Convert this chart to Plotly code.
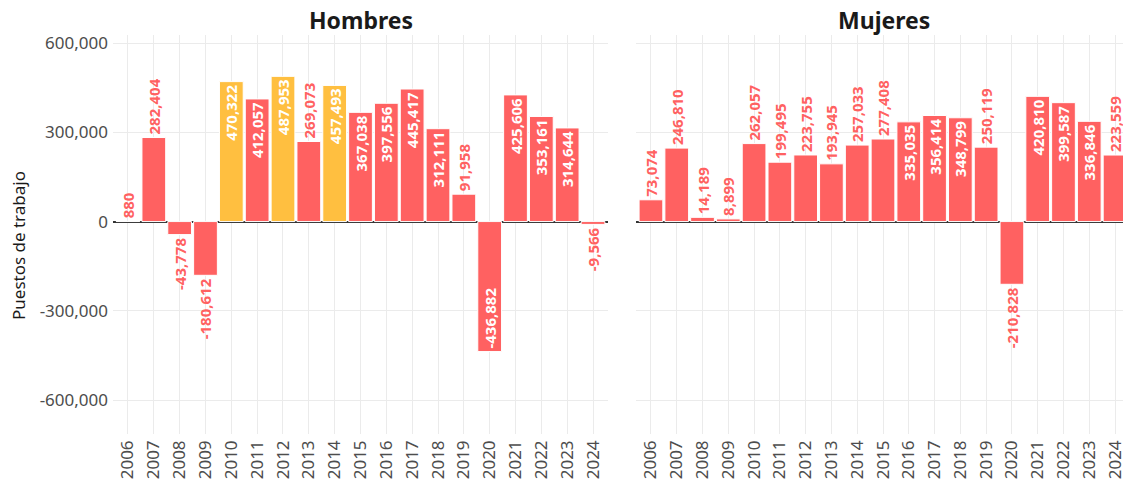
import plotly.graph_objects as go

years = list(range(2006, 2025))
hombres = [880, 282404, -43778, -180612, 470322, 412057, 487953, 269073, 457493,
           367038, 397556, 445417, 312111, 91958, -436882, 425606, 353161, 314644, -9566]
mujeres = [73074, 246810, 14189, 8899, 262057, 199495, 223755, 193945, 257033,
           277408, 335035, 356414, 348799, 250119, -210828, 420810, 399587, 336846, 223559]
highlight_years = [2010, 2012, 2014]
panel_titles = ["Hombres", "Mujeres"]
y_title = "Puestos de trabajo"
y_ticks = [-600000, -300000, 0, 300000, 600000]
y_ticklabels = ["-600,000", "-300,000", "0", "300,000", "600,000"]

RED = "#FF6161"
YELLOW = "#FFBF40"
W, H = 1123, 487


def px_x(p):
    return p / W


def px_y(p):
    return 1 - p / H


def fmt(v):
    return f"{v:,}"


def positions(vals):
    return ["inside" if abs(v) > 300000 else "outside" for v in vals]


fig = go.Figure()


def add_panel(vals, colors, xa, ya):
    fig.add_trace(go.Bar(
        x=years, y=vals, xaxis=xa, yaxis=ya,
        marker=dict(color=colors, line=dict(color="white", width=1)),
        width=0.92,
        text=[fmt(v) for v in vals], textposition=positions(vals),
        textangle=-90, insidetextanchor="end", constraintext="none",
        insidetextfont=dict(color="white", size=15, family="Noto Sans", weight="bold"),
        outsidetextfont=dict(color=RED, size=15, family="Noto Sans", weight="bold"),
        cliponaxis=False, showlegend=False, hoverinfo="x+y",
    ))


add_panel(hombres, [YELLOW if y in highlight_years else RED for y in years], "x", "y")
add_panel(mujeres, RED, "x2", "y2")

ydom = [px_y(434), px_y(35)]
yrange = [-714000, 627000]
grid = "#ebebeb"
tickfont = dict(family="Noto Sans", size=17, color="#4d4d4d")

xcommon = dict(tickmode="array", tickvals=years, ticktext=[str(y) for y in years],
               tickangle=-90, showgrid=True, gridcolor=grid, gridwidth=1,
               zeroline=False, showline=False, ticks="", tickfont=tickfont,
               automargin=False, ticklabelstandoff=2, ticklabeloverflow="allow")
ycommon = dict(domain=ydom, range=yrange, tickmode="array", tickvals=y_ticks,
               ticktext=y_ticklabels, showgrid=True, gridcolor=grid, gridwidth=1,
               zeroline=True, zerolinecolor="#333333", zerolinewidth=1.6,
               ticks="", tickfont=tickfont, automargin=False)

# right panel runs past the window edge (page x 1130); clip its range at the edge
right_end_px = 1123
right_max = 2024.58 - (1130 - right_end_px) / 25.8

fig.update_layout(
    width=W, height=H,
    margin=dict(l=0, r=0, t=0, b=0),
    paper_bgcolor="white", plot_bgcolor="white",
    xaxis=dict(domain=[px_x(113), px_x(608)], range=[2005.42, 2024.58], anchor="y", **xcommon),
    xaxis2=dict(domain=[px_x(636), px_x(right_end_px)], range=[2005.42, right_max],
                anchor="y2", **xcommon),
    yaxis=dict(anchor="x", ticklabelstandoff=4, **ycommon),
    yaxis2=dict(anchor="x2", showticklabels=False, matches="y", **ycommon),
    annotations=[
        dict(text=f"<b>{panel_titles[0]}</b>", x=px_x(361), y=px_y(20),
             xref="paper", yref="paper", showarrow=False, xanchor="center", yanchor="middle",
             font=dict(family="Noto Sans", size=23, color="#1a1a1a")),
        dict(text=f"<b>{panel_titles[1]}</b>", x=px_x(884), y=px_y(20),
             xref="paper", yref="paper", showarrow=False, xanchor="center", yanchor="middle",
             font=dict(family="Noto Sans", size=23, color="#1a1a1a")),
        dict(text=y_title, x=px_x(18), y=px_y(246), xref="paper", yref="paper",
             showarrow=False, textangle=-90, xanchor="center", yanchor="middle",
             font=dict(family="Noto Sans", size=17, color="#1a1a1a")),
    ],
)

fig.write_html(
    "out.html",
    config={"displayModeBar": False},
    post_script="document.body.style.margin='0px';document.body.style.overflow='hidden';",
)
